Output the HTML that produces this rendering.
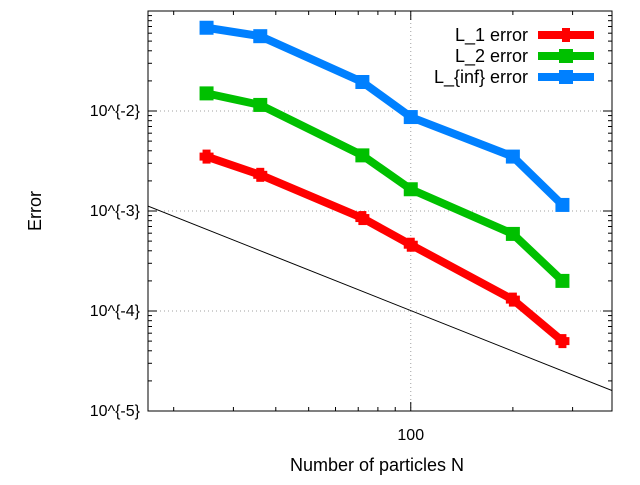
<!DOCTYPE html>
<html><head><meta charset="utf-8"><style>
body{margin:0;background:#fff}
svg text{font-family:"Liberation Sans",sans-serif;font-size:16px;fill:#000}
svg text.big{font-size:18px}
</style></head><body>
<svg id="c" width="640" height="480" xmlns="http://www.w3.org/2000/svg"></svg>
<script>
const particles=[25,36,72,100,200,280];
const l1Error=[3.5e-3,2.3e-3,8.5e-4,4.6e-4,1.3e-4,5.0e-5];
const l2Error=[1.5e-2,1.15e-2,3.6e-3,1.65e-3,5.9e-4,2.0e-4];
const linfError=[6.8e-2,5.6e-2,1.95e-2,8.7e-3,3.5e-3,1.15e-3];
const refLineX=[16.8,392];
const refLineY=[1.12e-3,1.6e-5];
const yTickValues=[1e-5,1e-4,1e-3,1e-2];
const yTickLabels=["10^{-5}","10^{-4}","10^{-3}","10^{-2}"];
const xTickValues=[100];
const xTickLabels=["100"];
const seriesNames=["L_1 error","L_2 error","L_{inf} error"];

const L=148,R=612,T=11,B=411;
const xmin=16.8,xmax=392,ymin=1e-5,ymax=1e-1;
const sx=v=>L+(Math.log10(v)-Math.log10(xmin))/(Math.log10(xmax)-Math.log10(xmin))*(R-L);
const sy=v=>B-(Math.log10(v)-Math.log10(ymin))/(Math.log10(ymax)-Math.log10(ymin))*(B-T);
const svg=document.getElementById('c');
const NS='http://www.w3.org/2000/svg';
function mk(t,a,p){const e=document.createElementNS(NS,t);for(const k in a)e.setAttribute(k,a[k]);(p||svg).appendChild(e);return e;}

const clip=mk('clipPath',{id:'pc'});mk('rect',{x:L,y:T,width:R-L,height:B-T},clip);

yTickValues.forEach((v,i)=>{
  const y=sy(v);
  if(i>0){const g=mk('line',{x1:L,x2:R,y1:y,y2:y,stroke:'#a0a0a0','stroke-dasharray':'1,3'});
  
  }
  mk('line',{x1:L,x2:L+9,y1:y,y2:y,stroke:'#000'});
  mk('line',{x1:R,x2:R-9,y1:y,y2:y,stroke:'#000'});
  const t=mk('text',{x:L-8,y:y+5,'text-anchor':'end'});t.textContent=yTickLabels[i];
  
  
  for(let m=2;m<10;m++){const mv=v*m;if(mv>=ymax)break;const my=sy(mv);
    mk('line',{x1:L,x2:L+4,y1:my,y2:my,stroke:'#000'});mk('line',{x1:R,x2:R-4,y1:my,y2:my,stroke:'#000'});}
});
xTickValues.forEach((v,i)=>{
  const x=sx(v);
  const g=mk('line',{x1:x,x2:x,y1:T,y2:B,stroke:'#a0a0a0','stroke-dasharray':'1,3'});
  
  
  mk('line',{x1:x,x2:x,y1:B,y2:B-9,stroke:'#000'});mk('line',{x1:x,x2:x,y1:T,y2:T+9,stroke:'#000'});
  const t=mk('text',{x:x,y:B+29,'text-anchor':'middle'});t.textContent=xTickLabels[i];
  
  
});
[20,30,40,50,60,70,80,90,200,300].forEach(v=>{if(v<xmin||v>xmax)return;const x=sx(v);
  mk('line',{x1:x,x2:x,y1:B,y2:B-4,stroke:'#000'});mk('line',{x1:x,x2:x,y1:T,y2:T+4,stroke:'#000'});});

const frame=mk('rect',{x:L,y:T,width:R-L,height:B-T,fill:'none',stroke:'#000'});



const ref=mk('line',{x1:sx(refLineX[0]),y1:sy(refLineY[0]),x2:sx(refLineX[1]),y2:sy(refLineY[1]),stroke:'#000','stroke-width':1,'clip-path':'url(#pc)'});



const series=[l1Error,l2Error,linfError];
const colors=['#ff0000','#00c000','#0080ff'];
const legY=[35,56,77];
function marker(s,x,y,p){
  if(s===0){mk('rect',{x:x-4,y:y-7,width:8,height:14,fill:colors[s]},p);mk('rect',{x:x-7,y:y-4,width:14,height:8,fill:colors[s]},p);}
  else mk('rect',{x:x-7,y:y-7,width:14,height:14,fill:colors[s]},p);
}
series.forEach((vals,s)=>{
  const g=mk('g',{});
  
  
  const pts=particles.map((p,i)=>sx(p)+','+sy(vals[i])).join(' ');
  mk('polyline',{points:pts,fill:'none',stroke:colors[s],'stroke-width':8,'stroke-linejoin':'round'},g);
  particles.forEach((p,i)=>{
    const m=mk('g',{},g);
    
    
    marker(s,sx(p),sy(vals[i]),m);
  });
  const lg=mk('g',{});
  
  
  const t=mk('text',{x:528,y:legY[s]+6,'text-anchor':'end','class':'big'},lg);t.textContent=seriesNames[s];
  mk('line',{x1:538,x2:594,y1:legY[s],y2:legY[s],stroke:colors[s],'stroke-width':8},lg);
  marker(s,566,legY[s],lg);
});

const yt=mk('text',{x:41,y:211,'text-anchor':'middle',transform:'rotate(-90 41 211)','class':'big'});yt.textContent='Error';


const xt=mk('text',{x:377,y:471,'text-anchor':'middle','class':'big'});xt.textContent='Number of particles N';


</script>
</body></html>
